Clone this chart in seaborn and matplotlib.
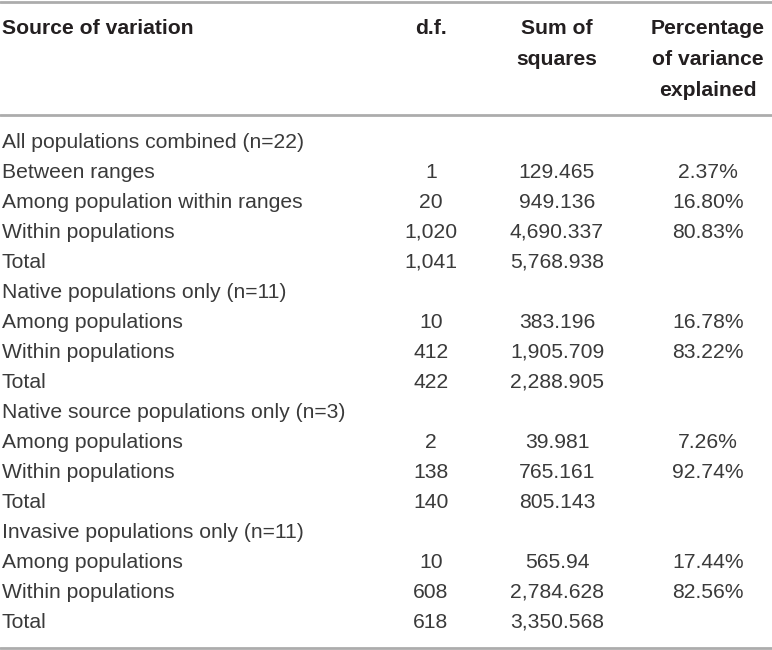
import matplotlib
matplotlib.use("Agg")
import matplotlib.pyplot as plt
import seaborn as sns

# ---- data ----
header_source = "Source of variation"
header_df = "d.f."
header_ss = ["Sum of", "squares"]
header_pct = ["Percentage", "of variance", "explained"]

row_labels = [
    "All populations combined (n=22)",
    "Between ranges",
    "Among population within ranges",
    "Within populations",
    "Total",
    "Native populations only (n=11)",
    "Among populations",
    "Within populations",
    "Total",
    "Native source populations only (n=3)",
    "Among populations",
    "Within populations",
    "Total",
    "Invasive populations only (n=11)",
    "Among populations",
    "Within populations",
    "Total",
]
df_values = ["", "1", "20", "1,020", "1,041",
             "", "10", "412", "422",
             "", "2", "138", "140",
             "", "10", "608", "618"]
ss_values = ["", "129.465", "949.136", "4,690.337", "5,768.938",
             "", "383.196", "1,905.709", "2,288.905",
             "", "39.981", "765.161", "805.143",
             "", "565.94", "2,784.628", "3,350.568"]
pct_values = ["", "2.37%", "16.80%", "80.83%", "",
              "", "16.78%", "83.22%", "",
              "", "7.26%", "92.74%", "",
              "", "17.44%", "82.56%", ""]

sns.set_theme(style="white")
plt.rcParams["font.family"] = ["Liberation Sans", "DejaVu Sans"]

W, H = 772, 650
fig = plt.figure(figsize=(W / 100, H / 100), dpi=100)
ax = fig.add_axes([0, 0, 1, 1])
ax.set_xlim(0, W)
ax.set_ylim(H, 0)
ax.axis("off")

head_color = "#231f20"
text_color = "#3a3a3a"
line_color = "#acacac"
fs = 15.2

x_label = 2
x_df = 431
x_ss = 557
x_pct = 708

# rules
for y in [2, 114.5, 647.5]:
    ax.axhline(y, color=line_color, lw=2.0)

# header
hy = [28, 59.5, 90]
ax.text(x_label, hy[0], header_source, ha="left", va="center",
        fontsize=fs, fontweight="bold", color=head_color)
ax.text(x_df, hy[0], header_df, ha="center", va="center",
        fontsize=fs, fontweight="bold", color=head_color)
for i, t in enumerate(header_ss):
    ax.text(x_ss, hy[i], t, ha="center", va="center",
            fontsize=fs, fontweight="bold", color=head_color)
for i, t in enumerate(header_pct):
    ax.text(x_pct, hy[i], t, ha="center", va="center",
            fontsize=fs, fontweight="bold", color=head_color)

# body
y0, dy = 142, 30
for i, lab in enumerate(row_labels):
    y = y0 + i * dy
    ax.text(x_label, y, lab, ha="left", va="center", fontsize=fs, color=text_color)
    ax.text(x_df, y, df_values[i], ha="center", va="center", fontsize=fs, color=text_color)
    ax.text(x_ss, y, ss_values[i], ha="center", va="center", fontsize=fs, color=text_color)
    ax.text(x_pct, y, pct_values[i], ha="center", va="center", fontsize=fs, color=text_color)

fig.savefig("out.png", dpi=100, facecolor="white")
